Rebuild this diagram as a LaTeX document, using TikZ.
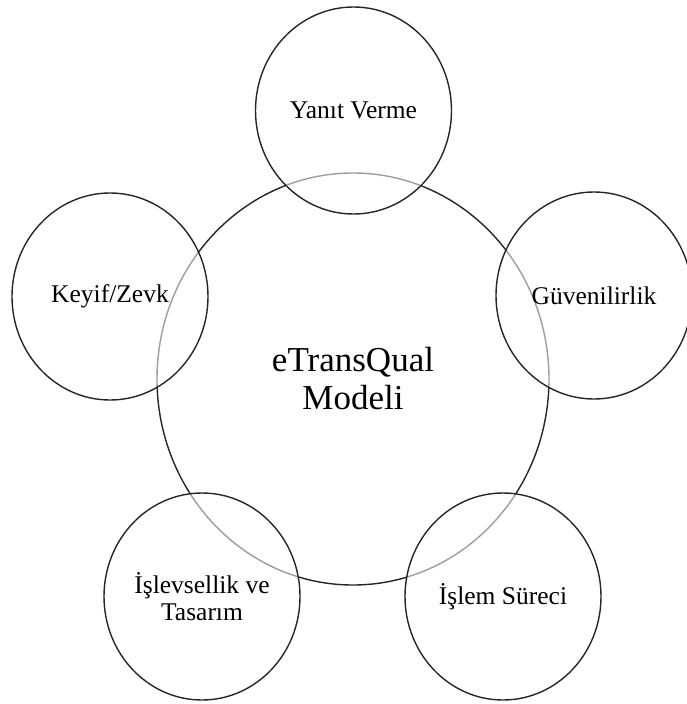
\documentclass[tikz,border=0pt]{standalone}
\usepackage{fontspec}
\setmainfont{Liberation Serif}
\usetikzlibrary{shapes.geometric}
\begin{document}
\begin{tikzpicture}[x=1pt,y=-1pt,
  ring/.style={ellipse,draw=black!85,line width=1.4pt,inner sep=0pt,align=center},
  facet/.style={ring,fill=white,fill opacity=0.55,text opacity=1,
    minimum width=196pt,minimum height=207pt,font=\fontsize{25.5}{26.5}\selectfont},
  core/.style={ring,minimum width=392pt,minimum height=412pt,
    font=\fontsize{35}{38}\selectfont}]
\useasboundingbox (0,0) rectangle (686,704);
% central model
\node[core] (model) at (353,379) {eTransQual\\Modeli};
% surrounding dimensions, lightly covering the central ring
\node[facet] (yanit) at (353.5,110.5) {Yanıt Verme};
\node[facet] (keyif) at (110,296.5) {Keyif/Zevk};
\node[facet] (guven) at (594,295.5) {Güvenilirlik};
\node[facet] (islev) at (202,596.5) {İşlevsellik ve\\Tasarım};
\node[facet] (islem) at (503,596.5) {İşlem Süreci};
\end{tikzpicture}
\end{document}
